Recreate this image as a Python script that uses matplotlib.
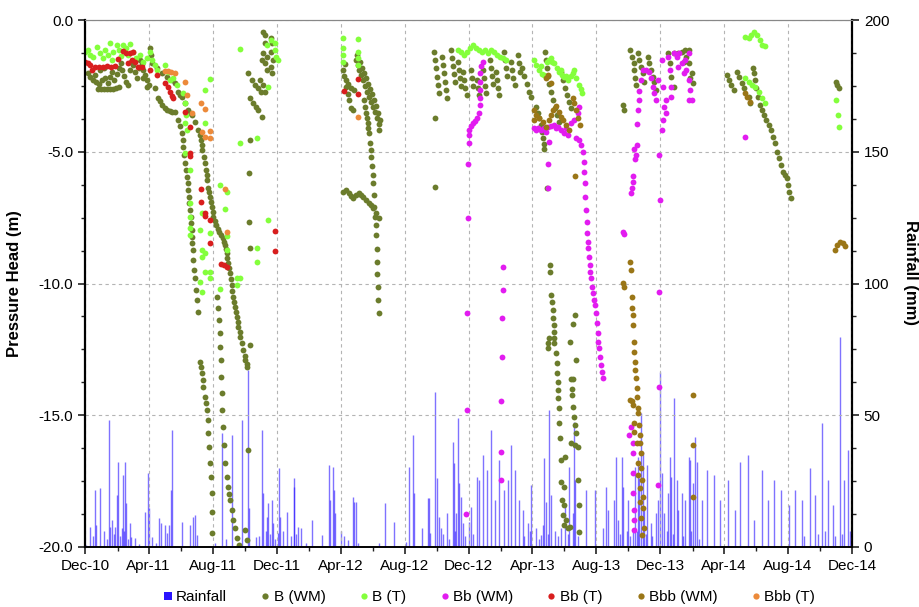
import numpy as np
import matplotlib
matplotlib.use("Agg")
import matplotlib.pyplot as plt
import matplotlib.dates as mdates
from matplotlib.ticker import MultipleLocator, FormatStrFormatter
from matplotlib.lines import Line2D
import datetime as dt

# all x values: months after 1 Dec 2010; heads in m, rainfall in mm

b_wm = [
    # Dec-10 .. Apr-11
    (0.19, -2.01), (0.31, -2.16), (0.50, -2.28), (0.63, -2.09), (0.69, -2.35), (0.88, -2.43), (0.94, -1.90),
    (1.07, -2.28), (1.19, -1.82), (1.25, -2.20), (0.82, -2.62), (1.00, -2.62), (1.19, -2.62), (1.38, -2.62),
    (1.57, -2.62), (1.76, -2.62), (1.94, -2.58), (2.13, -2.54), (1.44, -2.39), (1.57, -2.16), (1.69, -1.97),
    (1.82, -2.28), (2.01, -2.05), (2.13, -1.82), (2.26, -1.63), (2.32, -1.90), (2.45, -2.13), (2.57, -2.35),
    (2.70, -2.47), (2.82, -1.90), (2.89, -1.59), (3.01, -1.71), (3.14, -1.97), (3.26, -2.20), (3.39, -1.82),
    (3.45, -1.52), (3.58, -1.67), (3.64, -1.90), (3.76, -2.09), (3.89, -2.28), (4.02, -2.47), (4.08, -1.06),
    (4.14, -1.33), (4.20, -1.63),
    # dry season 2011
    (3.64, -2.20), (3.89, -2.54), (4.39, -2.58), (4.58, -2.96), (4.71, -3.07), (4.83, -3.23), (5.02, -3.34),
    (5.14, -3.42), (5.33, -3.45), (5.46, -3.49), (5.65, -3.49), (5.83, -3.80), (5.96, -4.02), (6.09, -4.29),
    (6.15, -4.55), (6.15, -4.82), (6.21, -5.12), (6.27, -5.43), (6.34, -5.69), (6.40, -5.96), (6.46, -6.19),
    (6.46, -6.45), (6.52, -6.72), (6.52, -6.94), (6.59, -7.21), (6.65, -7.48), (6.65, -7.70), (6.71, -7.97),
    (6.71, -8.24), (6.71, -8.46), (6.78, -8.73), (6.78, -9.11), (6.84, -9.49), (6.90, -9.79), (6.96, -10.25),
    (7.03, -10.63), (7.09, -11.08),
    (4.52, -1.82), (4.83, -2.01), (5.14, -2.16), (5.46, -2.28), (5.65, -2.39), (5.83, -2.73), (5.96, -2.85),
    (6.09, -2.92), (6.27, -3.15), (6.46, -3.42), (6.59, -3.53), (6.71, -3.61), (6.90, -3.87), (7.09, -4.17),
    (7.21, -4.36), (7.28, -4.55), (7.34, -4.74), (7.34, -4.93), (7.47, -5.20), (7.53, -5.43), (7.59, -5.69),
    (7.65, -5.88), (7.65, -6.07), (7.72, -6.38), (7.78, -6.53), (7.84, -6.72), (7.90, -6.91), (7.97, -7.10),
    (8.03, -7.29), (8.03, -7.48), (8.16, -7.63), (8.22, -7.78), (8.34, -7.93), (8.41, -8.05), (8.53, -8.16),
    (8.66, -8.27), (8.72, -8.42), (8.78, -8.54), (8.85, -8.69), (8.91, -8.84), (8.91, -9.03), (8.97, -9.22),
    (9.03, -9.41), (9.10, -9.60), (9.16, -9.83), (9.22, -10.06), (9.22, -10.28), (9.28, -10.51), (9.35, -10.70),
    (9.41, -10.89), (9.47, -11.08), (9.54, -11.27), (9.60, -11.46), (9.60, -11.65), (9.72, -11.84),
    (9.72, -12.03), (9.85, -12.26), (9.91, -12.52), (10.04, -12.75), (10.04, -12.90), (10.16, -13.05),
    (10.16, -13.17), (10.35, -12.33),
    (8.28, -10.51), (8.34, -10.93), (8.41, -11.39), (8.47, -11.88), (8.47, -12.41), (8.53, -12.90),
    (8.53, -13.55), (8.59, -14.16), (8.59, -14.80), (8.66, -15.45), (8.72, -16.13), (8.78, -16.81),
    (8.91, -17.34), (8.97, -17.72), (9.03, -17.99), (9.10, -18.22), (9.22, -18.60), (9.28, -18.98),
    (9.41, -19.28), (9.54, -19.66), (9.66, -19.92), (10.04, -19.35), (10.16, -19.73), (10.23, -16.32),
    (7.21, -12.98), (7.28, -13.17), (7.34, -13.40), (7.40, -13.66), (7.40, -13.93), (7.53, -14.31),
    (7.59, -14.53), (7.65, -14.80), (7.72, -15.18), (7.72, -15.67), (7.78, -16.20), (7.84, -16.81),
    (7.90, -17.34), (7.97, -17.95), (7.97, -18.67), (7.97, -19.47),
    (10.35, -4.55), (10.29, -5.81), (10.29, -7.67), (10.35, -8.65),
    # Dec-11
    (10.23, -2.01), (10.48, -2.28), (10.66, -2.47), (10.85, -2.58), (11.04, -2.73), (10.35, -2.96),
    (10.54, -3.15), (10.73, -3.30), (10.85, -3.42), (11.10, -3.68), (11.17, -0.46), (11.29, -0.57),
    (11.61, -0.68), (11.73, -0.87), (11.29, -0.87), (11.17, -1.25), (11.10, -1.52), (11.42, -1.40),
    (11.29, -1.63), (11.42, -1.90), (11.61, -1.78), (11.67, -1.21), (11.79, -1.52), (11.73, -2.01),
    (10.98, -2.28), (11.17, -2.47), (11.29, -2.73),
    # Apr-12
    (16.25, -1.67), (16.12, -1.90), (16.19, -2.13), (16.31, -2.28), (16.44, -2.43), (16.62, -2.58),
    (16.81, -2.66), (16.31, -2.54), (16.44, -2.81), (16.50, -3.04), (16.62, -3.34), (16.75, -3.42),
    (16.94, -1.52), (17.00, -1.33), (17.06, -1.71), (17.13, -1.90), (17.19, -1.59), (17.25, -2.09),
    (17.32, -1.82), (17.38, -2.28), (17.44, -2.01), (17.50, -2.50), (17.57, -2.20), (17.63, -2.73),
    (17.69, -2.43), (17.75, -2.92), (17.82, -2.62), (17.88, -3.11), (17.94, -2.81), (18.01, -3.30),
    (18.07, -3.04), (18.13, -3.49), (18.19, -3.26), (18.26, -3.72), (18.32, -3.53), (18.38, -3.95),
    (18.38, -4.17), (18.45, -3.80),
    (17.44, -3.04), (17.50, -3.30), (17.57, -3.53), (17.63, -3.72), (17.69, -3.91), (17.69, -4.10),
    (17.75, -4.29), (17.82, -4.67), (17.88, -4.93), (17.88, -5.20), (17.94, -5.54), (18.01, -5.88),
    (18.01, -6.19), (18.07, -6.64), (18.07, -7.10), (18.13, -7.48), (18.19, -7.78), (18.19, -8.16),
    (18.26, -8.69), (18.26, -9.18), (18.26, -9.64), (18.32, -10.13), (18.32, -10.63), (18.38, -11.12),
    (16.12, -6.53), (16.31, -6.45), (16.50, -6.57), (16.62, -6.68), (16.75, -6.76), (16.94, -6.64),
    (17.13, -6.57), (17.25, -6.64), (17.38, -6.72), (17.57, -6.83), (17.75, -6.94), (17.88, -7.02),
    (18.01, -7.13), (18.19, -7.32), (18.38, -7.51),
    # Dec-12
    (21.90, -3.72), (21.90, -6.34),
    (21.83, -1.21), (21.90, -1.52), (21.96, -1.82), (22.02, -2.16), (22.08, -2.47), (22.15, -2.77),
    (22.34, -1.40), (22.40, -1.71), (22.46, -2.01), (22.52, -2.35), (22.59, -2.66), (22.65, -2.96),
    (22.90, -1.14), (22.96, -1.44), (23.03, -1.75), (23.09, -2.05), (23.15, -2.35), (23.34, -1.59),
    (23.40, -1.90), (23.47, -2.20), (23.53, -2.50), (23.65, -1.97), (23.72, -2.28), (23.78, -2.58),
    (23.90, -2.85), (24.15, -1.90), (24.22, -2.20), (24.28, -2.50), (24.53, -2.28), (24.59, -2.58),
    (24.66, -2.85), (24.91, -1.90), (24.97, -2.20), (25.03, -2.50), (25.10, -2.77), (25.35, -1.52),
    (25.41, -1.82), (25.47, -2.13), (25.54, -2.43), (25.72, -1.97), (25.79, -2.28), (25.85, -2.58),
    (25.91, -2.85), (26.23, -1.21), (26.29, -1.52), (26.35, -1.82), (26.41, -2.13), (26.66, -1.59),
    (26.73, -1.90), (26.79, -2.20), (26.92, -2.47), (27.10, -1.33), (27.17, -1.63), (27.23, -1.97),
    (27.35, -1.82), (27.48, -2.13), (27.67, -2.43), (27.79, -2.73), (27.92, -2.92),
    # Apr-13
    (28.80, -1.21), (28.86, -1.52), (28.92, -1.82), (28.99, -2.13), (29.05, -2.43), (29.17, -2.73),
    (29.30, -3.04), (29.43, -3.34), (29.55, -3.61), (29.68, -3.87), (28.23, -3.30), (28.36, -3.53),
    (28.42, -3.72), (28.55, -3.98), (28.61, -4.25), (28.67, -4.48), (28.73, -4.71), (28.73, -4.90),
    (28.92, -6.38), (29.80, -1.97), (29.93, -2.28), (30.05, -2.58), (30.18, -2.85), (30.30, -3.11),
    (30.43, -3.34),
    (29.11, -9.30), (29.11, -9.56), (29.17, -10.44), (29.24, -10.70), (29.30, -11.01), (29.30, -11.31),
    (29.36, -11.57), (29.36, -11.84), (29.05, -12.07), (28.99, -12.26), (28.99, -12.45), (29.36, -12.07),
    (29.36, -12.26), (29.49, -12.64), (29.55, -13.02), (29.55, -13.40), (29.61, -13.74), (29.61, -14.04),
    (29.61, -14.35), (29.68, -14.72), (29.68, -15.29), (29.74, -15.86), (29.80, -16.70), (30.05, -16.58),
    (29.80, -17.53), (29.99, -17.72), (29.86, -18.22), (29.99, -18.41), (29.93, -18.79), (30.12, -18.98),
    (29.99, -19.16), (30.24, -19.28), (30.37, -19.24),
    (30.68, -11.20), (30.55, -11.54), (30.37, -12.22), (30.74, -12.90), (30.43, -13.62), (30.55, -13.62),
    (30.49, -14.00), (30.49, -14.23), (30.55, -14.69), (30.62, -15.07), (30.68, -15.37), (30.74, -15.67),
    (30.43, -16.05), (30.68, -16.13), (30.87, -16.20), (30.87, -17.46), (30.93, -18.41), (30.93, -19.43),
    # Oct-13 .. Feb-14
    (33.69, -3.23), (33.75, -3.42), (34.13, -1.14), (34.26, -1.40), (34.38, -1.63), (34.38, -1.90),
    (34.44, -2.20), (34.51, -2.47), (34.63, -1.25), (34.70, -1.52), (34.82, -1.78), (34.95, -2.01),
    (35.01, -2.35), (35.26, -1.40), (35.32, -1.63), (35.45, -1.90), (35.57, -2.16), (35.64, -2.35),
    (35.76, -2.66), (36.51, -1.25), (36.58, -1.63), (36.70, -2.16), (36.83, -2.54), (36.89, -1.25),
    (37.14, -1.25), (37.33, -1.21), (37.46, -1.59), (37.52, -1.14), (37.64, -1.40), (37.77, -1.14),
    (37.83, -1.63), (37.89, -2.20), (37.96, -2.01), (38.02, -2.39),
    # Apr-14 .. Aug-14
    (40.15, -2.09), (40.28, -2.28), (40.40, -2.47), (40.59, -2.66), (40.78, -1.97), (40.91, -2.16),
    (41.09, -2.39), (41.22, -2.58), (41.53, -2.92), (41.60, -3.15), (41.78, -1.82), (41.85, -2.01),
    (41.91, -2.28), (41.97, -2.58), (42.10, -2.92), (42.22, -3.23), (42.35, -3.42), (42.48, -3.61),
    (42.60, -3.80), (42.79, -3.98), (42.91, -4.17), (43.04, -4.44), (43.17, -4.67), (43.29, -5.01),
    (43.42, -5.24), (43.54, -5.50), (43.67, -5.77), (43.79, -5.88), (43.92, -6.00), (43.98, -6.26),
    (44.04, -6.53), (44.17, -6.76),
    (46.99, -2.35), (47.06, -2.47), (47.18, -2.58),
]

b_t = [
    (0.00, -1.21), (0.19, -1.14), (0.31, -1.33), (0.50, -1.40), (0.75, -1.02), (0.94, -1.25), (1.13, -1.44),
    (1.25, -1.14), (1.44, -1.33), (1.57, -0.87), (1.69, -1.52), (1.76, -1.21), (2.01, -0.95), (2.13, -1.14),
    (2.26, -1.37), (2.38, -0.95), (2.57, -1.06), (2.70, -1.33), (2.82, -0.91), (3.01, -1.21), (3.20, -1.44),
    (3.45, -1.33), (3.64, -1.59), (3.89, -1.44), (4.08, -1.21), (4.20, -1.52), (4.39, -1.71), (4.52, -1.90),
    (5.02, -1.71), (5.21, -1.97), (5.33, -2.28), (5.52, -2.20), (5.77, -2.47), (6.15, -2.77), (6.27, -3.15),
    (6.34, -3.61), (6.40, -4.17), (7.53, -2.66), (7.84, -2.24), (9.72, -1.10), (9.72, -4.67), (10.79, -4.48),
    (11.48, -2.54), (11.42, -0.95), (11.61, -0.76), (11.92, -0.87), (11.92, -1.14), (11.98, -1.40),
    (12.05, -1.52),
    (6.27, -3.91), (7.53, -3.91), (6.27, -5.05), (6.59, -5.69), (8.47, -6.26), (8.91, -6.53), (8.78, -7.17),
    (6.59, -6.94), (7.34, -7.32), (6.59, -7.48), (6.59, -7.89), (7.21, -7.97), (8.91, -8.20), (7.84, -8.08),
    (6.59, -8.16), (11.48, -7.59), (10.79, -8.65), (10.79, -9.18), (7.34, -8.73), (7.53, -8.84),
    (7.34, -8.99), (8.91, -8.73), (7.53, -9.56), (7.84, -9.56), (7.21, -9.94), (7.34, -10.32), (7.84, -9.79),
    (9.54, -9.79), (9.72, -9.79), (9.54, -10.06), (8.47, -10.21),
    (16.12, -0.68), (16.12, -1.06), (16.12, -1.33), (16.12, -1.59), (17.06, -0.72), (17.06, -1.21),
    (17.06, -1.44), (17.06, -1.71),
    (23.34, -1.14), (23.53, -1.21), (23.72, -1.33), (23.90, -1.21), (24.09, -1.06), (24.28, -0.95),
    (24.47, -1.06), (24.66, -1.14), (24.85, -1.21), (25.03, -1.14), (25.22, -1.25), (25.41, -1.14),
    (25.60, -1.21), (25.79, -1.33), (25.97, -1.40), (26.16, -1.44), (26.35, -1.52),
    (28.11, -1.52), (28.23, -1.71), (28.42, -1.90), (28.61, -2.05), (28.73, -2.09), (28.92, -1.59),
    (29.05, -1.52), (29.24, -1.59), (29.36, -1.63), (29.55, -1.82), (29.68, -1.97), (29.86, -2.09),
    (29.99, -2.16), (30.24, -2.28), (30.43, -2.13), (30.55, -2.01), (30.74, -2.20), (30.93, -2.47),
    (31.06, -2.62), (31.12, -2.77), (28.55, -1.75), (29.17, -1.44), (29.80, -1.90), (30.12, -2.13),
    (30.62, -1.90),
    (41.28, -0.65), (41.53, -0.68), (41.66, -0.57), (41.85, -0.46), (42.04, -0.57), (42.22, -0.76),
    (42.35, -0.95), (42.54, -0.99), (41.28, -2.20), (41.53, -2.35), (41.72, -2.47), (41.91, -2.54),
    (42.16, -2.73), (42.35, -2.96), (42.54, -3.15),
    (46.99, -3.04), (47.12, -3.61), (47.18, -4.06),
]

bb_wm = [
    (24.91, -1.59), (24.78, -1.75), (24.72, -2.01), (24.72, -2.35), (24.72, -2.66), (24.72, -2.96),
    (24.72, -3.23), (24.66, -3.53), (24.53, -3.72), (24.41, -3.83), (24.28, -3.91), (24.15, -4.02),
    (24.03, -4.17), (24.03, -4.36), (24.03, -4.67), (23.97, -5.46), (23.97, -7.51), (23.90, -11.12),
    (23.90, -14.80), (23.84, -18.75), (26.16, -9.37), (26.16, -10.25), (26.10, -11.31), (26.10, -12.79),
    (26.04, -14.46), (26.04, -16.39), (26.04, -17.46),
    (28.11, -4.10), (28.36, -4.10), (28.55, -4.17), (28.73, -4.10), (28.99, -4.06), (29.17, -4.02),
    (29.36, -3.98), (29.61, -4.06), (29.80, -4.17), (29.99, -4.29), (30.24, -4.36), (30.43, -3.91),
    (30.62, -3.80), (30.87, -3.53), (30.93, -3.30), (30.93, -4.55), (31.06, -4.74), (29.05, -4.63),
    (28.99, -5.46), (28.99, -6.38), (28.23, -4.17), (28.86, -4.25), (29.49, -4.10), (30.12, -4.10),
    (30.74, -4.48),
    (31.18, -5.01), (31.24, -5.39), (31.24, -5.77), (31.31, -6.19), (31.31, -6.72), (31.37, -7.21),
    (31.43, -7.67), (31.43, -8.08), (31.49, -8.42), (31.49, -8.65), (31.56, -8.99), (31.62, -9.30),
    (31.62, -9.56), (31.68, -9.79), (31.75, -10.13), (31.81, -10.36), (31.87, -10.63), (31.93, -10.82),
    (32.00, -11.12), (32.06, -11.50), (32.12, -11.88), (32.12, -12.22), (32.19, -12.45), (32.25, -12.79),
    (32.31, -13.09), (32.37, -13.36), (32.44, -13.59),
    (33.69, -8.05), (33.75, -8.12), (34.19, -6.57), (34.26, -6.38), (34.32, -6.15), (34.32, -5.92),
    (34.44, -5.28), (34.51, -5.12), (34.38, -4.90), (34.57, -4.74), (34.57, -3.95), (34.63, -3.42),
    (34.70, -3.04), (34.70, -2.69), (34.82, -2.28), (34.95, -1.90), (35.13, -1.90), (35.32, -1.97),
    (35.45, -2.20), (35.57, -2.54), (35.64, -2.77), (35.76, -3.04), (35.89, -2.28), (35.95, -5.12),
    (36.01, -6.83), (35.95, -10.32), (35.95, -13.93), (35.89, -17.65),
    (36.08, -1.52), (36.20, -2.54), (36.26, -3.30), (36.20, -3.80), (36.08, -4.17), (36.33, -3.53),
    (36.39, -3.04), (36.51, -1.40), (36.58, -1.90), (36.70, -2.54), (36.70, -2.92), (36.83, -1.25),
    (37.02, -1.40), (37.14, -1.78), (37.20, -1.25), (37.33, -1.63), (37.46, -2.01), (37.52, -1.52),
    (37.64, -1.90), (37.77, -2.28), (37.83, -1.25), (37.89, -2.66), (37.96, -3.04), (37.77, -3.04),
    (34.19, -15.45), (34.07, -15.75), (34.32, -16.05), (34.32, -16.43), (34.32, -17.19), (34.32, -17.95),
    (34.38, -18.60), (34.38, -18.98), (34.38, -19.35),
    (41.28, -4.44),
]

bb_t = [
    (0.00, -1.59), (0.19, -1.63), (0.31, -1.71), (0.44, -1.90), (0.63, -1.78), (0.88, -1.78), (1.13, -1.78),
    (1.38, -1.75), (1.63, -1.78), (1.88, -1.75), (2.07, -1.48), (2.38, -1.18), (2.57, -1.25), (2.82, -1.25),
    (3.01, -1.21), (2.70, -1.63), (2.95, -1.52), (3.14, -1.59), (3.32, -1.78), (3.58, -1.78), (4.08, -1.90),
    (4.52, -2.09), (5.02, -2.39), (5.21, -2.54), (5.33, -2.73), (5.46, -2.88), (5.52, -2.96), (6.27, -3.49),
    (6.59, -4.06), (6.59, -5.05), (6.59, -5.16), (7.28, -6.41), (7.28, -6.91), (7.53, -7.32), (7.53, -7.44),
    (7.84, -7.59), (7.84, -8.46), (8.53, -9.26), (8.72, -9.30), (8.91, -9.37), (11.92, -8.01), (11.92, -8.77),
    (16.19, -2.69), (17.06, -2.24), (17.06, -2.81),
]

bbb_wm = [
    (28.11, -3.42), (28.23, -3.61), (28.42, -3.72), (28.11, -3.80), (28.67, -3.87), (28.86, -4.06),
    (29.05, -3.80), (29.17, -3.61), (29.30, -3.42), (29.49, -3.26), (29.68, -3.49), (29.80, -3.68),
    (29.93, -3.80), (30.12, -3.98), (30.30, -4.17), (30.55, -2.96), (30.62, -3.15), (30.74, -3.42),
    (30.87, -3.72), (30.99, -3.98), (28.86, -2.20), (28.99, -2.09), (29.17, -2.39), (30.68, -5.92),
    (33.69, -9.98), (33.75, -10.13), (34.13, -9.18), (34.19, -9.49), (34.26, -10.51), (34.26, -10.93),
    (34.32, -11.20), (34.32, -11.57), (34.38, -12.22), (34.38, -12.60), (34.44, -12.98), (34.44, -13.28),
    (34.51, -13.59), (34.57, -13.97), (34.57, -14.31), (34.13, -14.42), (34.26, -14.46), (34.32, -14.61),
    (34.63, -14.72), (34.63, -14.91), (34.38, -15.29), (34.38, -15.64), (34.70, -15.37), (34.76, -15.75),
    (34.57, -16.05), (34.76, -16.05), (34.82, -16.43), (34.63, -16.81), (34.82, -17.00), (34.63, -17.27),
    (34.88, -17.46), (34.76, -17.76), (34.95, -18.10), (34.76, -18.29), (34.95, -18.52), (34.82, -18.90),
    (35.01, -19.28), (34.88, -19.54),
    (38.08, -14.23), (38.02, -16.13), (38.02, -18.10),
    (41.28, -2.77), (41.41, -2.92), (41.60, -3.11),
    (46.93, -8.73), (47.06, -8.54), (47.24, -8.42), (47.43, -8.46), (47.56, -8.58),
]

bbb_t = [
    (5.02, -1.94), (5.21, -1.94), (5.40, -1.97), (5.65, -2.01), (6.27, -2.35), (6.40, -2.85), (6.71, -3.53),
    (7.28, -3.15), (7.53, -3.38), (7.34, -4.25), (7.53, -4.44), (7.84, -4.21), (7.84, -4.48), (8.78, -6.41),
    (8.91, -8.05), (17.06, -3.68),
]

rain = [
    (0.06, 0.8), (0.31, 7.6), (0.63, 21.6), (0.69, 8.3), (0.94, 22.4), (1.51, 48.2), (1.57, 7.6), (1.69, 10.2),
    (1.88, 7.6), (2.01, 19.7), (2.07, 32.3), (2.32, 7.2), (2.38, 27.3), (2.51, 32.3), (2.57, 16.7), (2.82, 9.1),
    (2.89, 3.8), (3.14, 3.4), (3.39, 1.1), (3.76, 13.3), (3.95, 28.1), (4.02, 14.8), (4.20, 3.8), (4.45, 1.5),
    (4.64, 11.0), (4.77, 9.1), (5.02, 8.3), (5.14, 5.3), (5.27, 8.3), (5.40, 21.6), (5.46, 44.4), (6.09, 9.5),
    (6.59, 8.3), (6.78, 11.4), (6.90, 12.1), (7.03, 4.6), (8.16, 1.5), (8.59, 43.3), (8.85, 3.0), (9.22, 42.5),
    (9.85, 48.2), (10.23, 67.2), (10.29, 14.8), (10.73, 3.8), (11.10, 44.4), (11.17, 20.5), (11.42, 11.4),
    (11.48, 16.7), (11.73, 17.8), (11.79, 9.1), (12.05, 5.3), (12.17, 30.0), (12.23, 11.4), (12.67, 13.3),
    (13.05, 22.8), (13.11, 26.2), (13.36, 7.6), (13.49, 7.2), (13.80, 1.5), (14.18, 10.2), (14.81, 4.6),
    (15.24, 31.1), (15.31, 17.8), (15.50, 30.4), (15.56, 21.6), (15.62, 12.9), (16.44, 2.7), (16.75, 19.0),
    (16.81, 17.1), (16.94, 17.1), (17.06, 1.5), (18.38, 1.5), (18.76, 16.7), (19.32, 9.5), (20.08, 1.9),
    (20.27, 30.4), (20.52, 42.5), (20.58, 20.5), (21.08, 7.2), (21.46, 18.6), (21.52, 18.6), (21.58, 5.3),
    (21.90, 58.8), (22.02, 26.2), (22.15, 11.4), (22.27, 7.2), (22.65, 12.9), (23.03, 39.8), (23.09, 31.9),
    (23.21, 12.9), (23.34, 49.0), (23.40, 24.3), (23.53, 19.0), (23.65, 9.1), (24.03, 9.5), (24.15, 15.2),
    (24.53, 26.6), (24.66, 25.4), (24.91, 34.9), (25.16, 29.2), (25.41, 44.4), (25.66, 17.8), (25.91, 33.0),
    (26.23, 21.6), (26.48, 25.4), (26.66, 38.7), (26.92, 29.2), (27.17, 17.8), (27.42, 14.0),
    (27.73, 9.1), (27.92, 23.5), (28.23, 7.2), (28.55, 4.6), (28.67, 8.3), (28.73, 33.8), (28.86, 17.1),
    (29.05, 52.0), (29.17, 19.7), (29.80, 7.2), (30.05, 15.9), (30.30, 30.4), (30.55, 12.9), (30.62, 47.4),
    (30.68, 25.4), (31.37, 21.6), (31.93, 21.6), (32.44, 7.2), (32.62, 22.8), (32.75, 14.0), (33.13, 17.8),
    (33.25, 34.2), (33.38, 10.2), (33.63, 34.2), (33.69, 22.8), (34.01, 17.8), (34.32, 7.2), (34.44, 30.4),
    (34.63, 34.2), (34.70, 26.2), (34.82, 50.9), (34.95, 36.1), (35.01, 14.0), (35.20, 31.1), (35.39, 9.1),
    (35.76, 12.9), (35.89, 17.8), (36.01, 66.4), (36.08, 28.1), (36.26, 12.9), (36.51, 20.5), (36.58, 34.2),
    (36.70, 26.6), (36.89, 56.5), (37.02, 25.4), (37.14, 14.0), (37.33, 20.5), (37.52, 17.8), (37.77, 34.2),
    (37.89, 33.0), (38.02, 24.3), (38.15, 41.7), (38.27, 32.3),
    (38.59, 17.8), (38.90, 29.2), (39.34, 27.3), (39.71, 17.8), (40.22, 25.4), (40.66, 14.0), (40.97, 32.3),
    (41.47, 34.9), (41.85, 10.2), (42.35, 29.2), (42.73, 17.8), (43.10, 25.4), (43.54, 21.6), (44.04, 15.9),
    (44.42, 21.6), (44.86, 17.8), (45.36, 30.0), (45.68, 19.7), (46.11, 47.1), (46.49, 25.4), (46.80, 15.9),
    (47.24, 79.7), (47.49, 25.4), (47.74, 36.8),
    # small daily falls in the wet seasons
    (0.50, 4.0), (1.20, 6.0), (1.35, 3.0), (1.80, 5.0), (2.20, 4.0), (2.45, 6.0), (2.70, 3.0), (10.90, 4.0),
    (11.30, 6.0), (11.60, 5.0), (11.90, 3.0), (12.40, 6.0), (12.90, 4.0), (13.20, 5.0), (16.05, 6.0),
    (16.20, 4.0), (22.40, 5.0), (22.80, 3.0), (23.15, 6.0), (23.80, 4.0), (24.30, 5.0), (27.50, 4.0),
    (27.85, 6.0), (28.40, 3.0), (28.95, 5.0), (29.40, 6.0), (29.60, 4.0), (30.20, 5.0), (30.85, 4.0),
    (33.50, 5.0), (33.90, 6.0), (34.10, 4.0), (34.55, 6.0), (35.10, 5.0), (35.50, 4.0), (36.40, 6.0),
    (36.80, 5.0), (37.40, 4.0), (37.95, 6.0), (38.40, 3.0), (45.00, 4.0), (45.90, 5.0), (46.30, 6.0),
    (46.95, 4.0), (47.40, 5.0), (47.85, 6.0),
]

t0 = mdates.date2num(dt.datetime(2010, 12, 1))
t1 = mdates.date2num(dt.datetime(2014, 12, 1))
day_per_month = (t1 - t0) / 48.0


def unpack(pairs):
    a = np.array(pairs, dtype=float)
    return t0 + a[:, 0] * day_per_month, a[:, 1]


plt.rcParams["font.family"] = ["Liberation Sans", "DejaVu Sans"]
plt.rcParams["axes.unicode_minus"] = False

fig = plt.figure(figsize=(9.2, 6.07), dpi=100)
ax = fig.add_axes([85 / 920, 60 / 607, 767 / 920, 527 / 607])
ax2 = ax.twinx()

rx, ry = unpack(rain)
ax2.vlines(rx, 0, ry, color="#2a14ff", lw=1.0, alpha=0.6)
ax2.set_ylim(0, 200)
ax2.yaxis.set_major_locator(MultipleLocator(50))
ax2.yaxis.set_minor_locator(MultipleLocator(12.5))
ax2.set_ylabel("Rainfall (mm)", fontsize=12, fontweight="bold", rotation=270, va="center")
ax2.yaxis.set_label_coords(1.076, 0.52)

series = [
    (b_wm, "#6b7c2c", "B (WM)"),
    (b_t, "#84ff3c", "B (T)"),
    (bb_wm, "#e21cf0", "Bb (WM)"),
    (bb_t, "#d81e1e", "Bb (T)"),
    (bbb_wm, "#9a7617", "Bbb (WM)"),
    (bbb_t, "#ec8a3a", "Bbb (T)"),
]
for data, col, lab in series:
    x, y = unpack(data)
    ax.plot(x, y, "o", ms=4.2, mew=0, color=col, label=lab)

ax.set_zorder(ax2.get_zorder() + 1)
ax.patch.set_visible(False)

ax.set_xlim(t0, t1)
ax.set_ylim(-20, 0)
ax.xaxis.set_major_locator(mdates.MonthLocator(bymonth=[4, 8, 12]))
ax.xaxis.set_minor_locator(mdates.MonthLocator(bymonth=[2, 6, 10]))
ax.xaxis.set_major_formatter(mdates.DateFormatter("%b-%y"))
ax.yaxis.set_major_locator(MultipleLocator(5))
ax.yaxis.set_minor_locator(MultipleLocator(1.25))
ax.yaxis.set_major_formatter(FormatStrFormatter("%.1f"))
ax.set_ylabel("Pressure Head (m)", fontsize=12, fontweight="bold")
ax.yaxis.set_label_coords(-0.082, 0.50)

ax.grid(True, which="major", color="#b4b4b4", ls=(0, (3, 3)), lw=0.8)
for a in (ax, ax2):
    a.tick_params(which="major", direction="out", length=5, width=1.2, labelsize=11, colors="#222222")
    a.tick_params(which="minor", direction="out", length=3, width=1.0, colors="#222222")
    a.tick_params(labelcolor="black")
ax.spines["left"].set_linewidth(1.6)
ax.spines["bottom"].set_linewidth(1.4)
ax.spines["top"].set_color("#888888")
ax.spines["right"].set_visible(False)
ax2.spines["right"].set_linewidth(1.6)
ax2.spines["top"].set_color("#888888")
ax2.spines["left"].set_visible(False)
ax2.spines["bottom"].set_visible(False)

handles = [Line2D([], [], ls="none", marker="s", ms=6, mew=0, color="#2a14ff")]
labels = ["Rainfall"]
for data, col, lab in series:
    handles.append(Line2D([], [], ls="none", marker="o", ms=4.5, mew=0, color=col))
    labels.append(lab)
fig.legend(handles, labels, loc="center", bbox_to_anchor=(0.53, 0.016), ncol=7, frameon=False,
           fontsize=11, handletextpad=0.05, columnspacing=2.0, handlelength=1.0)

plt.savefig("out.png", dpi=100)
